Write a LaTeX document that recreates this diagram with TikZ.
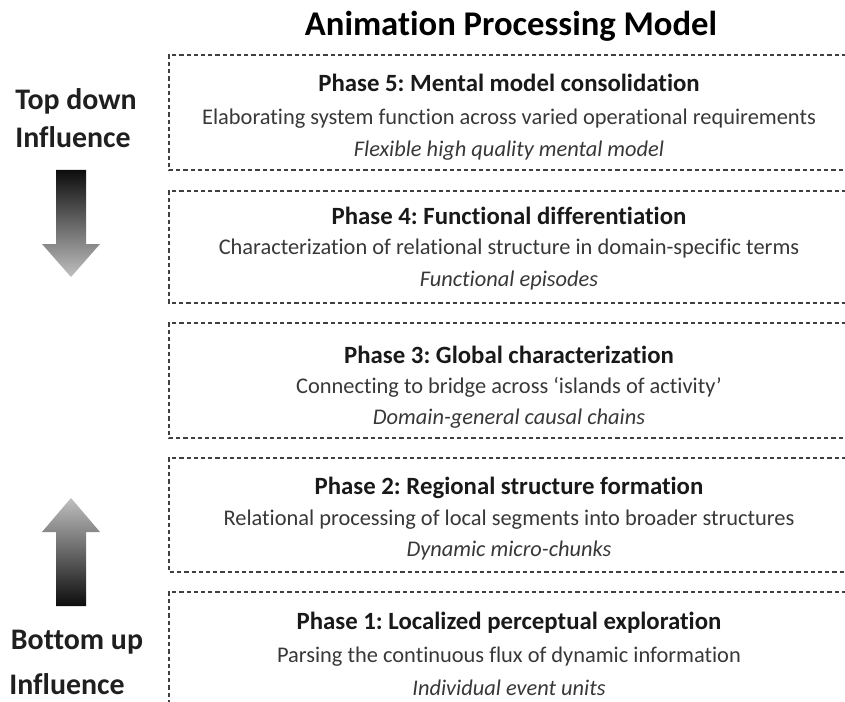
\documentclass[tikz,border=0pt]{standalone}
\usepackage{fontspec}
\setmainfont[Ligatures=NoCommon]{Carlito}
\frenchspacing
\begin{document}
\begin{tikzpicture}[x=0.75pt,y=-0.75pt,
  phasebox/.style={draw=black!75, line width=0.9pt, dash pattern=on 3.2pt off 2.2pt},
  heading/.style={font=\bfseries\fontsize{18.6}{20}\selectfont, text=black!90, inner sep=0pt},
  bodytext/.style={font=\fontsize{16.8}{18}\selectfont, text=black!78, inner sep=0pt},
  notetext/.style={font=\itshape\fontsize{16.8}{18}\selectfont, text=black!78, inner sep=0pt},
  sidelabel/.style={font=\bfseries\fontsize{22.4}{24}\selectfont, text=black!88, inner sep=0pt, align=center}]
\useasboundingbox (0,0) rectangle (845,702);
\fill[white] (0,0) rectangle (845,702);

% title
\node[font=\bfseries\fontsize{26}{28}\selectfont, inner sep=0pt] (title) at (511,26) {Animation Processing Model};

% dashed phase panels (open on the right, running past the edge)
\foreach \t/\b/\n in {55/170/p5, 191/303/p4, 323/438/p3, 458/572/p2} {
  \draw[phasebox] (846,\t) -- (169,\t) -- (169,\b) -- (846,\b);
  \coordinate (\n) at (508,\t);
}
\draw[phasebox] (846,592) -- (169,592) -- (169,703);
\coordinate (p1) at (508,592);

% phase 5
\node[heading]  (h5) at (509,83)  {Phase 5: Mental model consolidation};
\node[bodytext] (b5) at (509,119) {Elaborating system function across varied operational requirements};
\node[notetext] (n5) at (509,151) {Flexible high quality mental model};
% phase 4
\node[heading]  (h4) at (509,216) {Phase 4: Functional differentiation};
\node[bodytext] (b4) at (509,249) {Characterization of relational structure in domain-specific terms};
\node[notetext] (n4) at (509,281) {Functional episodes};
% phase 3
\node[heading]  (h3) at (509,355) {Phase 3: Global characterization};
\node[bodytext] (b3) at (509,387) {Connecting to bridge across ‘islands of activity’};
\node[notetext] (n3) at (509,419) {Domain-general causal chains};
% phase 2
\node[heading]  (h2) at (509,488) {Phase 2: Regional structure formation};
\node[bodytext] (b2) at (509,520) {Relational processing of local segments into broader structures};
\node[notetext] (n2) at (509,551) {Dynamic micro-chunks};
% phase 1
\node[heading]  (h1) at (509,623) {Phase 1: Localized perceptual exploration};
\node[bodytext] (b1) at (509,657) {Parsing the continuous flux of dynamic information};
\node[notetext] (n1) at (509,688) {Individual event units};

% side labels
\node[sidelabel] (td1) at (76,101) {Top down};
\node[sidelabel] (td2) at (73,137) {Influence};
\node[sidelabel] (bu1) at (77,642) {Bottom up};
\node[sidelabel] (bu2) at (67,684) {Influence};

% shaded influence arrows
\shade[top color=black!95, bottom color=black!25]
  (56,170) -- (86,170) -- (86,244) -- (100,244) -- (71,277) -- (42,244) -- (56,244) -- cycle;
\shade[top color=black!25, bottom color=black!95]
  (71,498) -- (100,532) -- (86,532) -- (86,606) -- (56,606) -- (56,532) -- (42,532) -- cycle;
\end{tikzpicture}
\end{document}
